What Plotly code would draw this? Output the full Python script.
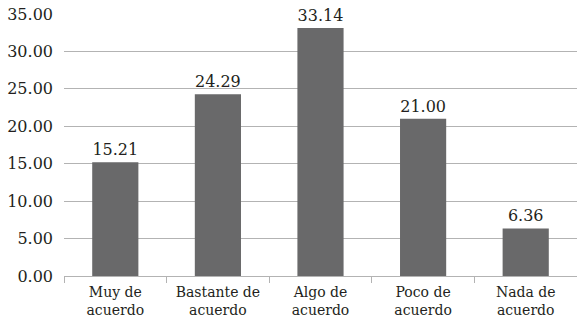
import plotly.graph_objects as go

categories = ["Muy de<br>acuerdo", "Bastante de<br>acuerdo", "Algo de<br>acuerdo",
              "Poco de<br>acuerdo", "Nada de<br>acuerdo"]
values = [15.21, 24.29, 33.14, 21.00, 6.36]
y_ticks = [0, 5, 10, 15, 20, 25, 30, 35]

serif = "DejaVu Serif"
text_color = "#231f20"

fig = go.Figure(
    go.Bar(
        x=categories,
        y=values,
        marker=dict(color="#69696a", line=dict(width=0)),
        text=[f"{v:.2f}" for v in values],
        textposition="outside",
        textfont=dict(family=serif, size=16, color=text_color),
        cliponaxis=False,
        width=0.45,
    )
)

fig.update_layout(
    width=577,
    height=321,
    margin=dict(l=64, r=0, t=14, b=45),
    paper_bgcolor="white",
    plot_bgcolor="white",
    showlegend=False,
    font=dict(family=serif, size=14, color=text_color),
    bargap=0.55,
)

fig.update_yaxes(
    range=[0, 35],
    tickvals=y_ticks,
    tickformat=".2f",
    showgrid=True,
    gridcolor="#b3b3b3",
    gridwidth=1.3,
    zeroline=False,
    showline=False,
    ticks="",
    ticklabelstandoff=10,
    tickfont=dict(family=serif, size=16, color=text_color),
)

fig.update_xaxes(
    showline=True,
    linecolor="#b3b3b3",
    linewidth=1.3,
    ticks="outside",
    tickson="boundaries",
    ticklen=6,
    tickcolor="#b3b3b3",
    showgrid=False,
    tickangle=0,
    ticklabelstandoff=3,
    tickfont=dict(family=serif, size=14, color=text_color),
)

fig.write_html("out.html")
